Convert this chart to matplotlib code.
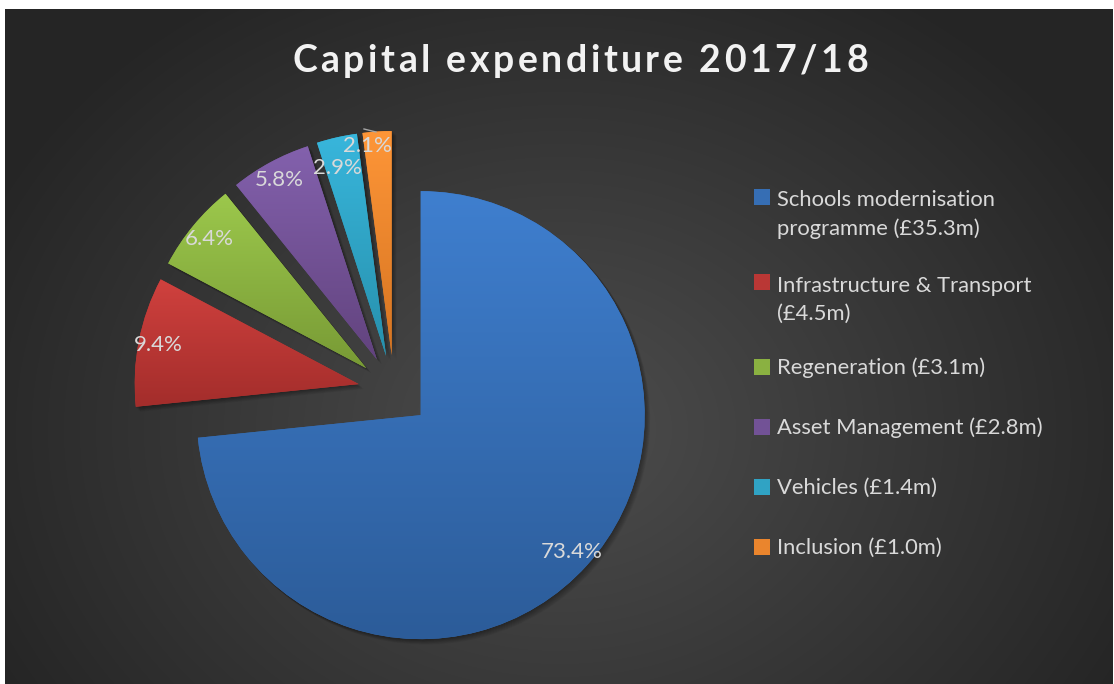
import numpy as np
import matplotlib
matplotlib.use("Agg")
import matplotlib.pyplot as plt
from matplotlib.colors import LinearSegmentedColormap, to_rgb
from matplotlib.patches import Rectangle, Wedge

# data (£m)
values = [35.3, 4.5, 3.1, 2.8, 1.4, 1.0]
legend_labels = [
    "Schools modernisation\nprogramme (£35.3m)",
    "Infrastructure & Transport\n(£4.5m)",
    "Regeneration (£3.1m)",
    "Asset Management (£2.8m)",
    "Vehicles (£1.4m)",
    "Inclusion (£1.0m)",
]
title = "Capital expenditure 2017/18"

# slice colours, top and bottom of the gradient
tops = ["#3f7fcf", "#d0413e", "#9cc84c", "#8361ad", "#38b6dc", "#fe9638"]
bottoms = ["#2c5c99", "#a32d2b", "#789a35", "#62437e", "#2790ac", "#d67421"]
mids = [tuple((np.array(to_rgb(a)) + np.array(to_rgb(b))) / 2) for a, b in zip(tops, bottoms)]

W, H = 1114, 684
FONT = "Lato"
TXT = "#d9d9d9"

fig = plt.figure(figsize=(W / 100, H / 100), dpi=100, facecolor="white")
ax = fig.add_axes([0, 0, 1, 1])

# radial grey background
x0, x1, ytop = 5, 1113, 9
yy, xx = np.mgrid[ytop:H, x0:x1] + 0.5
r = np.sqrt(((xx - 560) / 640) ** 2 + ((yy - 430) / 520) ** 2)
g = (0x4d - (0x4d - 0x25) * np.clip(r, 0, 1)) / 255
ax.imshow(np.dstack([g, g, g]), extent=(x0, x1, 0, H - ytop), origin="upper",
          aspect="auto", zorder=0, interpolation="bilinear")

# pie
cx, cy = 394, H - 391
wedges, texts, autotexts = ax.pie(
    values, colors=mids, startangle=90, counterclock=False,
    radius=224, center=(cx, cy), explode=[36] * len(values),
    autopct="%1.1f%%", pctdistance=0.91,
    wedgeprops=dict(linewidth=0, zorder=2),
    textprops=dict(color=TXT, fontsize=16, family=FONT))

for w, top, bot in zip(wedges, tops, bottoms):
    # soft drop shadow
    for s in range(1, 8):
        ax.add_patch(Wedge((w.center[0] + s * 0.7, w.center[1] - s * 0.7), w.r + 0.5,
                           w.theta1, w.theta2, color="black", alpha=0.05,
                           lw=0, zorder=1))
    # vertical gradient clipped to the slice
    bb = w.get_path().get_extents()
    cmap = LinearSegmentedColormap.from_list("", [top, bot])
    im = ax.imshow(np.linspace(0, 1, 256)[:, None], cmap=cmap,
                   extent=(bb.x0, bb.x1, bb.y0, bb.y1), origin="upper",
                   aspect="auto", zorder=3)
    im.set_clip_path(w)

for t in autotexts:
    t.set_zorder(5)
# the two small slices have their labels nudged apart, as in the original
autotexts[4].set_position((337, H - 168))
autotexts[5].set_position((367, H - 146))
ax.plot([364, 376], [H - 129, H - 132], color="#a6a6a6", lw=1, zorder=5)

# title with letter spacing
renderer = fig.canvas.get_renderer()
tprops = dict(family=FONT, weight="bold", size=27, color="#f2f2f2")


def text_width(s):
    t = ax.text(0, 0, s, **tprops)
    w = t.get_window_extent(renderer).width
    t.remove()
    return w


bar_w = text_width("|")
natural = text_width(title)
spacing = (576 - natural) / (len(title) - 1)
for i, ch in enumerate(title):
    left = 0 if i == 0 else text_width(title[:i] + "|") - bar_w
    ax.text(292 + left + i * spacing, H - 72, ch, va="baseline", ha="left",
            zorder=6, **tprops)

# legend
ly = 197
pitch = 31
for lab, c in zip(legend_labels, mids):
    n = lab.count("\n")
    ax.add_patch(Rectangle((754, H - ly - 8), 16, 16, color=c, lw=0, zorder=4))
    ax.text(777, H - ly - 7 - pitch * n, lab, va="baseline", ha="left", color=TXT,
            fontsize=15.8, family=FONT, linespacing=1.5, zorder=5)
    ly += 60 + 25 * n

ax.set_xlim(0, W)
ax.set_ylim(0, H)
ax.set_aspect("auto")
ax.axis("off")

fig.savefig("out.png", dpi=100, facecolor="white")
